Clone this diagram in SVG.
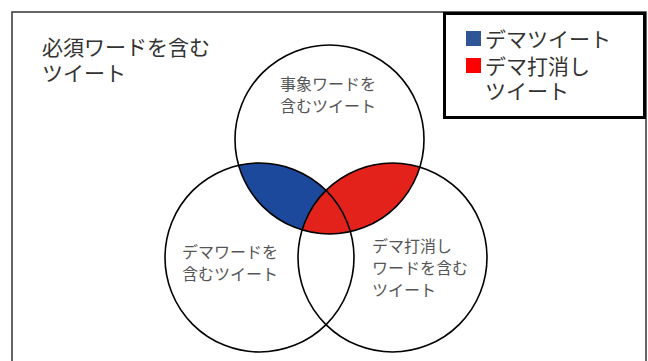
<svg xmlns="http://www.w3.org/2000/svg" width="648" height="361" viewBox="0 0 648 361">
<style>
.frame{fill:#fff;stroke:#333;stroke-width:1.5}
.ring{fill:none;stroke:#000;stroke-width:1.6}
.lbl{font-family:"Liberation Serif","Noto Sans CJK JP",serif;fill:#555;font-size:16px}
.big{font-family:"Liberation Serif","Noto Sans CJK JP",serif;fill:#333;font-size:21px}
</style>
<rect width="648" height="361" fill="#fff"/>
<g id="frame">
<rect class="frame" x="12" y="12" width="634" height="362"/>
</g>
<g id="title">
<text class="big" x="42" y="55">必須ワードを含む</text>
<text class="big" x="42" y="81">ツイート</text>
</g>
<g id="regions">
<path id="demaRegion" d="M238.6 165.3 A94.5 94.5 0 0 0 350.4 231.7 A94.5 94.5 0 0 0 238.6 165.3 Z" fill="#1d499c"/>
<path id="uchikeshiRegion" d="M419.9 167.1 A94.5 94.5 0 0 1 302.1 229.9 A94.5 94.5 0 0 1 419.9 167.1 Z" fill="#e3231b"/>
</g>
<g id="node-event">
<circle class="ring" cx="329.5" cy="139.5" r="94.5"/>
<text class="lbl" x="280" y="90">事象ワードを</text>
<text class="lbl" x="280" y="112">含むツイート</text>
</g>
<g id="node-dema">
<circle class="ring" cx="259.5" cy="257.5" r="94.5"/>
<text class="lbl" x="182" y="258">デマワードを</text>
<text class="lbl" x="182" y="280">含むツイート</text>
</g>
<g id="node-uchikeshi">
<circle class="ring" cx="392.5" cy="257.5" r="94.5"/>
<text class="lbl" x="372" y="252">デマ打消し</text>
<text class="lbl" x="372" y="274">ワードを含む</text>
<text class="lbl" x="372" y="296">ツイート</text>
</g>
<g id="connectors"></g>
<g id="legend">
<rect x="444.5" y="13.5" width="200" height="104" fill="#fff" stroke="#000" stroke-width="3"/>
<rect x="466" y="31" width="15" height="15" fill="#2f5597"/>
<text class="big" x="485" y="47">デマツイート</text>
<rect x="466" y="58" width="15" height="15" fill="#ff0000"/>
<text class="big" x="485" y="74">デマ打消し</text>
<text class="big" x="485" y="99">ツイート</text>
</g>
</svg>
